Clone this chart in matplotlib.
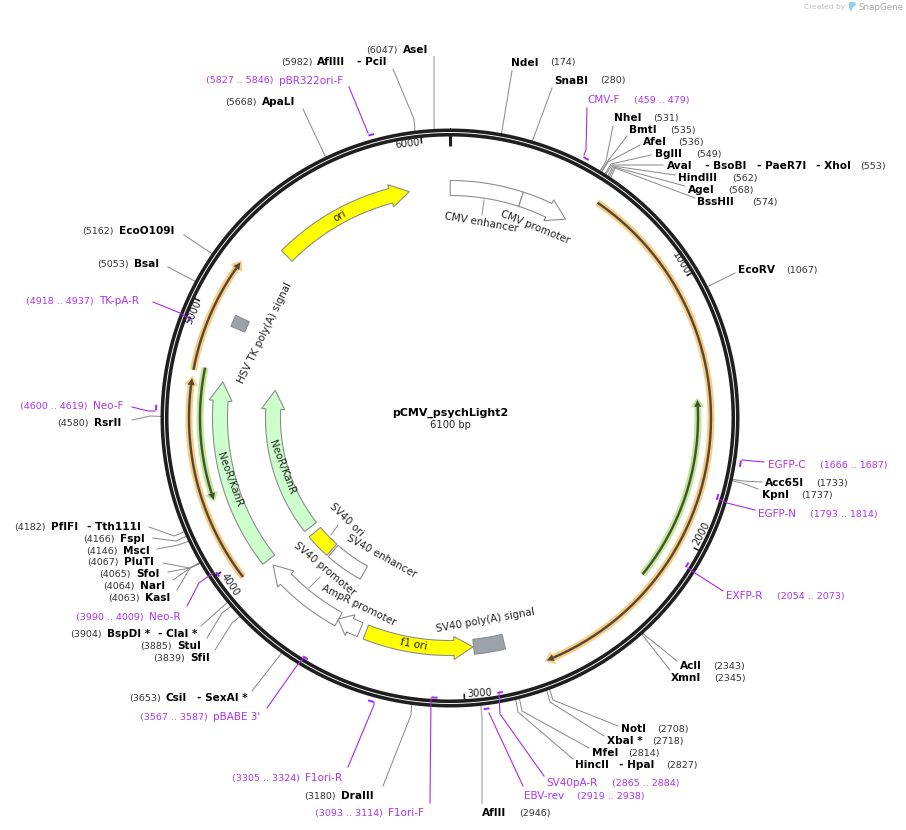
import numpy as np
import matplotlib
matplotlib.use("Agg")
import matplotlib.pyplot as plt

total_bp = 6100
plasmid_name = "pCMV_psychLight2"

# restriction sites
site_names = ["NdeI", "SnaBI", "NheI", "BmtI", "AfeI", "BglII", "AvaI", "HindIII", "AgeI", "BssHII",
              "EcoRV", "Acc65I", "KpnI", "AclI", "XmnI", "NotI", "XbaI *", "MfeI", "HincII", "AflII",
              "AseI", "AflIII", "ApaLI", "EcoO109I", "BsaI", "RsrII", "PflFI", "FspI", "MscI", "PluTI",
              "SfoI", "NarI", "KasI", "BspDI *", "StuI", "SfiI", "CsiI", "DraIII"]
site_bp = [174, 280, 531, 535, 536, 549, 553, 562, 568, 574,
           1067, 1733, 1737, 2343, 2345, 2708, 2718, 2814, 2827, 2946,
           6047, 5982, 5668, 5162, 5053, 4580, 4182, 4166, 4146, 4067,
           4065, 4064, 4063, 3904, 3885, 3839, 3653, 3180]
# second names sharing a label row
extra_names = ["- BsoBI", "- PaeR7I", "- XhoI", "- HpaI", "- PciI", "- Tth111I", "- ClaI *", "- SexAI *"]

# primers
primer_names = ["CMV-F", "EGFP-C", "EGFP-N", "EXFP-R", "SV40pA-R", "EBV-rev", "F1ori-F", "F1ori-R",
                "pBABE 3'", "Neo-R", "Neo-F", "TK-pA-R", "pBR322ori-F"]
primer_start = [459, 1666, 1793, 2054, 2865, 2919, 3093, 3305, 3567, 3990, 4600, 4918, 5827]
primer_end = [479, 1687, 1814, 2073, 2884, 2938, 3114, 3324, 3587, 4009, 4619, 4937, 5846]

# features
block_names = ["ori", "CMV enhancer", "CMV promoter", "SV40 ori", "SV40 enhancer", "SV40 promoter",
               "AmpR promoter", "f1 ori", "SV40 poly(A) signal", "HSV TK poly(A) signal", "NeoR/KanR", "NeoR/KanR"]
block_start = [5334, 1, 305, 3760, 3543, 3541, 3440, 2953, 2821, 4960, 3931, 3931]
block_end = [5927, 305, 511, 3894, 3750, 3902, 3543, 3414, 2950, 5009, 4728, 4728]
tick_bp = [1000, 2000, 3000, 4000, 5000, 6000]

# translated ORF lines
orf_start = [583, 1454, 4755, 3939, 4251]
orf_end = [2681, 2187, 5195, 4724, 4772]

# ---------------- layout, all in pixels of the 906x830 picture
cx, cy = 450, 418
site_text_x = [511, 554, 614, 629, 643, 655, 667, 678, 688, 697,
               738, 765, 762, 680, 671, 621, 607, 592, 575, 482,
               403, 317, 262, 119, 134, 94, 51, 120, 123, 124,
               136, 140, 145, 107, 177, 190, 166, 341]
site_num_x = [550, 600, 653, 670, 678, 696, 860, 732, 728, 752,
              786, 816, 801, 713, 714, 657, 652, 628, 666, 519,
              366, 281, 225, 82, 97, 57, 14, 83, 86, 87,
              99, 103, 108, 70, 140, 153, 129, 304]
site_y = [63, 81, 118, 130, 142, 154, 166, 178, 190, 202,
          270, 483, 495, 666, 678, 729, 741, 753, 765, 813,
          50, 62, 102, 231, 264, 423, 527, 539, 551, 562,
          574, 586, 598, 634, 646, 658, 698, 796]
site_line_end = [(512, 71), (552, 88), (613, 126), (627, 136), (640, 145), (651, 155), (663, 165), (675, 175),
                 (685, 186), (695, 198), (735, 273), (762, 482), (758, 489), (677, 661), (670, 670), (618, 726),
                 (604, 736), (589, 748), (573, 759), (482, 803), (434, 57), (393, 69), (303, 109), (184, 235),
                 (168, 267), (132, 420), (149, 527), (153, 538), (157, 549), (163, 563), (168, 572), (173, 580),
                 (177, 590), (201, 626), (207, 638), (215, 650), (252, 691), (383, 786)]
site_elbow = [None, None, (606, 161), (607, 162), (608, 162), (611, 164), (612, 165), (613, 166),
              (614, 167), (615, 168), None, (743, 481), (742, 483), None, None, (553, 700),
              (550, 702), (522, 711), (518, 712), (482, 717), (434, 117), (414, 119), None, None,
              None, (150, 416), (174, 536), (176, 541), (178, 545), (190, 568), (190, 568), (190, 568),
              (190, 568), None, (222, 613), (232, 623), None, (411, 715)]
heavy_sites = ["AseI", "AflII"]
extra_x = [705, 757, 816, 619, 357, 87, 158, 197]
extra_y = [166, 166, 166, 765, 62, 527, 634, 698]

primer_text_x = [587, 768, 758, 726, 546, 524, 388, 305, 213, 149, 93, 99, 279]
primer_num_x = [634, 820, 810, 777, 612, 577, 315, 232, 140, 76, 20, 26, 206]
primer_y = [100, 465, 514, 596, 783, 796, 813, 778, 717, 617, 406, 301, 81]
primer_r = [293, 294, 279, 279, 279, 293, 280, 294, 280, 280, 294, 279, 294]
primer_lines = [[(587, 108), (586, 150), (584, 155)], [(764, 462), (742, 460)], [(755, 510), (727, 503), (719, 499)],
                [(723, 591), (695, 573), (688, 568)], [(544, 776), (500, 714), (499, 694)], [(523, 786), (489, 713)],
                [(430, 803), (431, 698)], [(348, 767), (374, 705), (374, 702)], [(267, 708), (298, 664), (304, 658)],
                [(187, 606), (199, 583), (213, 573)], [(132, 407), (148, 411), (155, 411)], [(153, 302), (180, 313), (188, 318)],
                [(349, 87), (368, 133)]]

block_r = [230, 230, 230, 177, 177, 230, 230, 230, 230, 230, 230, 177]
block_style = ["arrow_f", "box", "arrow_f", "box", "box", "arrow_f", "arrow_f", "arrow_r", "box", "box", "arrow_f", "arrow_f"]
block_color = ["#ffff00", "white", "white", "#ffff00", "white", "white", "white", "#ffff00", "#9da3ad", "#9da3ad", "#ccffcc", "#ccffcc"]
label_xy = [(340, 216), (481, 223), (535, 227), (347, 520), (382, 556), (325, 569),
            (359, 605), (414, 644), (485, 620), (265, 333), (230, 480), (282, 467)]
label_rot = [30, -10, -22, -44, -29, -40, -26, -10, 10, 64, -70, -69]

orf_r = [261, 248, 261, 261, 250]
orf_halo = ["#fdcb80", "#b8ee90", "#fdcb80", "#fdcb80", "#b8ee90"]
orf_forward = [True, False, True, True, False]

tick_label_xy = [(681, 263), (701, 533), (480, 693), (230, 585), (194, 312), (407, 144)]
tick_label_rot = [-59, 62, 3, -56, 66, 6]

PX = 0.72  # points per pixel at dpi 100
purple = "#a629f0"
dark = "#1f1f1f"
grey_line = "#8a8a8a"


def pos(bp, r):
    a = np.asarray(bp) / total_bp * 2 * np.pi
    return cx + r * np.sin(a), cy - r * np.cos(a)


def arc(b0, b1, r, n=60):
    return pos(np.linspace(b0, b1, n), r)


def arrow_polygon(b0, b1, r, forward, half=7.5, head_half=11.5):
    # b0/b1 low and high bp, the point sits on b1 when forward
    span_px = (b1 - b0) / total_bp * 2 * np.pi * r
    head_px = min(19, 0.55 * span_px)
    head_bp = head_px / r * total_bp / (2 * np.pi)
    if forward:
        base, tip, tail = b1 - head_bp, b1, b0
    else:
        base, tip, tail = b0 + head_bp, b0, b1
    xo, yo = arc(tail, base, r + half)
    xi, yi = arc(base, tail, r - half)
    hx1, hy1 = pos(base, r + head_half)
    tx, ty = pos(tip, r)
    hx2, hy2 = pos(base, r - head_half)
    xs = np.concatenate([xo, [hx1, tx, hx2], xi])
    ys = np.concatenate([yo, [hy1, ty, hy2], yi])
    return xs, ys


fig = plt.figure(figsize=(9.06, 8.30), dpi=100)
ax = fig.add_axes([0, 0, 1, 1])
ax.set_xlim(0, 906)
ax.set_ylim(830, 0)
ax.axis("off")

# leaders go under the ring
for name, bp, end, elbow in zip(site_names, site_bp, site_line_end, site_elbow):
    xs, ys = [end[0]], [end[1]]
    if elbow is not None:
        xs.append(elbow[0])
        ys.append(elbow[1])
    rx, ry = pos(bp, 286)
    xs.append(rx)
    ys.append(ry)
    if name in heavy_sites:
        ax.plot(xs, ys, color="#bbbbbb", lw=1.6 * PX, zorder=1)
    else:
        ax.plot(xs, ys, color=grey_line, lw=1.0 * PX, zorder=1)

# backbone, run a little past the origin so the butt ends close up
circle_x, circle_y = arc(0, total_bp + 4, 285.5, 720)
ax.plot(circle_x, circle_y, color=dark, lw=8 * PX, solid_capstyle="butt", zorder=3)
ax.plot(circle_x, circle_y, color="white", lw=0.9 * PX, solid_capstyle="butt", zorder=4)

# ticks
x0, y0 = pos(0, 283)
x1, y1 = pos(0, 272)
ax.plot([x0, x1], [y0, y1], color=dark, lw=3 * PX, solid_capstyle="butt", zorder=3)
for bp, xy, rot in zip(tick_bp, tick_label_xy, tick_label_rot):
    x0, y0 = pos(bp, 283)
    x1, y1 = pos(bp, 276)
    ax.plot([x0, x1], [y0, y1], color=dark, lw=1.6 * PX, solid_capstyle="butt", zorder=3)
    ax.text(xy[0], xy[1], str(bp), fontsize=10 * PX, color="#222222", rotation=rot, rotation_mode="anchor",
            ha="center", va="center", zorder=6)

# feature blocks
for i in range(len(block_names)):
    r = block_r[i]
    if block_style[i] == "box":
        xo, yo = arc(block_start[i], block_end[i], r + 7.5)
        xi, yi = arc(block_end[i], block_start[i], r - 7.5)
        xs, ys = np.concatenate([xo, xi]), np.concatenate([yo, yi])
    else:
        xs, ys = arrow_polygon(block_start[i], block_end[i], r, block_style[i] == "arrow_f")
    ax.fill(xs, ys, facecolor=block_color[i], edgecolor="#8c8c8c", lw=1.1 * PX, zorder=2)
    ax.text(label_xy[i][0], label_xy[i][1], block_names[i], fontsize=10.2 * PX, color="#222222", rotation=label_rot[i],
            rotation_mode="anchor", ha="center", va="center", zorder=6)

# small leaders of the feature labels
ax.plot([484, 482], [200, 215], color=grey_line, lw=0.9 * PX, zorder=2)
ax.plot([338, 331], [525, 535], color=grey_line, lw=0.9 * PX, zorder=2)
ax.plot([320, 309], [577, 588], color=grey_line, lw=0.9 * PX, zorder=2)

# ORF lines with halo
for b0, b1, r, halo, forward in zip(orf_start, orf_end, orf_r, orf_halo, orf_forward):
    head_bp = 7 / r * total_bp / (2 * np.pi)
    if forward:
        base, tip, lo, hi = b1 - head_bp, b1, b0, b1 - head_bp
    else:
        base, tip, lo, hi = b0 + head_bp, b0, b0 + head_bp, b1
    xs, ys = arc(lo, hi, r)
    ax.plot(xs, ys, color=halo, lw=7 * PX, solid_capstyle="butt", zorder=2)
    ax.plot(xs, ys, color="#4f4a3c", lw=2.4 * PX, solid_capstyle="butt", zorder=3)
    tx, ty = pos(tip + (2 if forward else -2) * total_bp / (2 * np.pi * r), r)
    ax.fill([pos(base, r + 7)[0], tx, pos(base, r - 7)[0]], [pos(base, r + 7)[1], ty, pos(base, r - 7)[1]],
            color=halo, lw=0, zorder=2)
    tx, ty = pos(tip, r)
    ax.fill([pos(base, r + 3.5)[0], tx, pos(base, r - 3.5)[0]], [pos(base, r + 3.5)[1], ty, pos(base, r - 3.5)[1]],
            color="#4f4a3c", lw=0, zorder=3)

# site labels
for i, name in enumerate(site_names):
    ax.text(site_text_x[i], site_y[i], name, fontsize=10.5 * PX, fontweight="bold", color="black", ha="left", va="center")
    ax.text(site_num_x[i], site_y[i], "(%d)" % site_bp[i], fontsize=9.5 * PX, color="#333333", ha="left", va="center")
for name, x, y in zip(extra_names, extra_x, extra_y):
    ax.text(x, y, name, fontsize=10.5 * PX, fontweight="bold", color="black", ha="left", va="center")

# primers
for i, name in enumerate(primer_names):
    xs, ys = arc(primer_start[i], primer_end[i], primer_r[i], 8)
    ax.plot(xs, ys, color=purple, lw=2 * PX, solid_capstyle="butt", zorder=5)
    line_x = [p[0] for p in primer_lines[i]]
    line_y = [p[1] for p in primer_lines[i]]
    ax.plot(line_x, line_y, color=purple, lw=1.1 * PX, zorder=5)
    ax.text(primer_text_x[i], primer_y[i], name, fontsize=10.4 * PX, color=purple, ha="left", va="center", alpha=0.95)
    ax.text(primer_num_x[i], primer_y[i], "(%d .. %d)" % (primer_start[i], primer_end[i]), fontsize=9.5 * PX,
            color=purple, ha="left", va="center", alpha=0.95)

# centre title
ax.text(cx, 413, plasmid_name, fontsize=11 * PX, fontweight="bold", color="black", ha="center", va="center")
ax.text(cx, 425, "%d bp" % total_bp, fontsize=10 * PX, color="#222222", ha="center", va="center")

# watermark
ax.text(845, 7, "Created by", fontsize=7.5 * PX, color="#bdbdbd", ha="right", va="center")
ax.fill([849, 855, 856, 853, 851, 849], [2, 2, 5, 7, 12, 8], color="#8fd3ea", lw=0)
ax.text(858, 7, "SnapGene", fontsize=8.8 * PX, color="#a8a8a8", ha="left", va="center")

fig.savefig("out.png", dpi=100)
